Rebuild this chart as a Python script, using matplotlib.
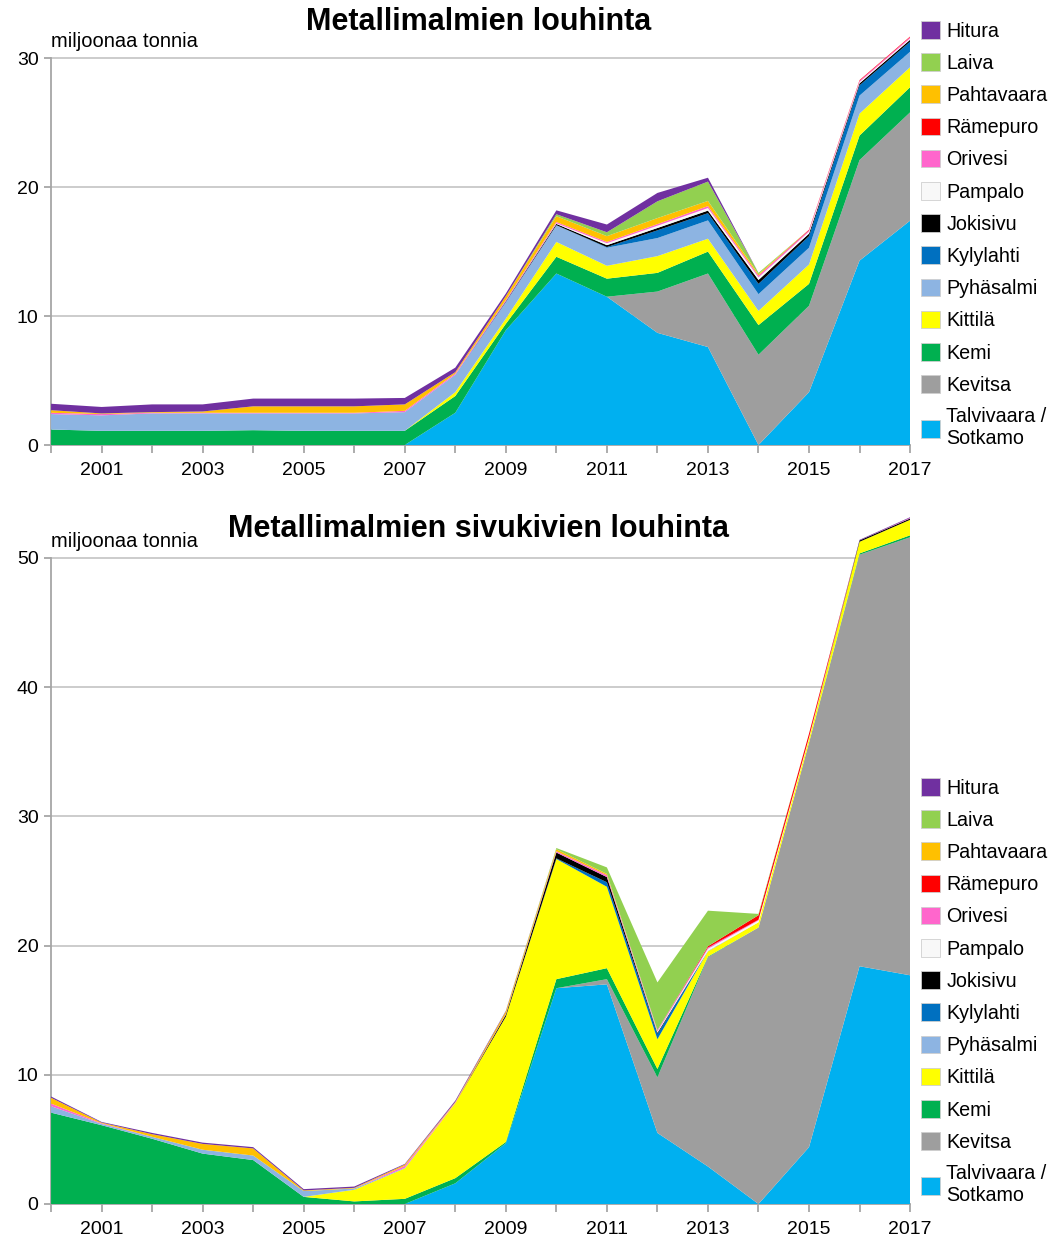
# Metallimalmien louhinta + sivukivien louhinta, pinotut aluekaaviot
import numpy as np
import matplotlib
matplotlib.use("Agg")
import matplotlib.pyplot as plt
from matplotlib.patches import Patch

plt.rcParams['font.family'] = ['Liberation Sans', 'DejaVu Sans']

years = list(range(2000, 2018))
xlabels = [str(y) if y % 2 == 1 else '' for y in years]

mines = ['Talvivaara /\nSotkamo', 'Kevitsa', 'Kemi', 'Kittilä', 'Pyhäsalmi', 'Kylylahti',
         'Jokisivu', 'Pampalo', 'Orivesi', 'Rämepuro', 'Pahtavaara', 'Laiva', 'Hitura']
colors = ['#00b0f0', '#9e9e9e', '#00b050', '#ffff00', '#8db4e2', '#0070c0',
          '#000000', '#f8f8f8', '#ff66cc', '#ff0000', '#ffc000', '#92d050', '#7030a0']

# malmin louhinta, milj. t (2000-2017)
ore_talvivaara = [0, 0, 0, 0, 0, 0, 0, 0, 2.5, 8.9, 13.3, 11.5, 8.7, 7.6, 0, 4.1, 14.3, 17.4]
ore_kevitsa    = [0, 0, 0, 0, 0, 0, 0, 0, 0, 0, 0, 0, 3.2, 5.7, 7.0, 6.7, 7.8, 8.4]
ore_kemi       = [1.2, 1.1, 1.1, 1.1, 1.15, 1.1, 1.1, 1.1, 1.3, 0.5, 1.3, 1.4, 1.45, 1.7, 2.3, 1.7, 1.9, 1.95]
ore_kittila    = [0, 0, 0, 0, 0, 0, 0, 0, 0.3, 0.4, 1.15, 1.0, 1.3, 1.0, 1.1, 1.5, 1.7, 1.55]
ore_pyhasalmi  = [1.2, 1.2, 1.35, 1.35, 1.3, 1.35, 1.35, 1.45, 1.35, 1.3, 1.3, 1.4, 1.4, 1.42, 1.3, 1.3, 1.4, 1.2]
ore_kylylahti  = [0, 0, 0, 0, 0, 0, 0, 0, 0, 0, 0, 0.05, 0.6, 0.56, 0.8, 0.9, 0.8, 0.78]
ore_jokisivu   = [0, 0, 0, 0, 0, 0, 0, 0, 0, 0.05, 0.1, 0.15, 0.18, 0.2, 0.3, 0.2, 0.15, 0.15]
ore_pampalo    = [0, 0, 0, 0, 0, 0, 0, 0, 0, 0, 0.05, 0.15, 0.18, 0.2, 0.2, 0.15, 0.1, 0.1]
ore_orivesi    = [0.1, 0.1, 0.05, 0.05, 0.05, 0.05, 0.05, 0.1, 0.1, 0.1, 0.1, 0.1, 0.12, 0.15, 0.15, 0.1, 0.1, 0.1]
ore_ramepuro   = [0, 0, 0, 0, 0, 0, 0, 0, 0, 0, 0, 0, 0, 0, 0, 0.05, 0.05, 0.05]
ore_pahtavaara = [0.2, 0.05, 0.05, 0.1, 0.5, 0.5, 0.5, 0.5, 0.1, 0.3, 0.45, 0.45, 0.47, 0.4, 0.1, 0, 0, 0]
ore_laiva      = [0, 0, 0, 0, 0, 0, 0, 0, 0, 0, 0.15, 0.3, 1.3, 1.5, 0.1, 0, 0, 0]
ore_hitura     = [0.5, 0.5, 0.6, 0.55, 0.6, 0.6, 0.6, 0.5, 0.35, 0.2, 0.3, 0.6, 0.65, 0.3, 0, 0, 0, 0]

# sivukiven louhinta, milj. t
waste_talvivaara = [0, 0, 0, 0, 0, 0, 0, 0, 1.6, 4.7, 16.7, 17.0, 5.5, 2.9, 0, 4.4, 18.4, 17.7]
waste_kevitsa    = [0, 0, 0, 0, 0, 0, 0, 0, 0, 0, 0, 0.4, 4.3, 16.2, 21.4, 31.3, 31.85, 33.9]
waste_kemi       = [7.07, 6.1, 5.05, 3.9, 3.4, 0.55, 0.2, 0.4, 0.4, 0.1, 0.7, 0.85, 0.65, 0.05, 0, 0, 0.1, 0.15]
waste_kittila    = [0, 0, 0, 0, 0, 0, 0.9, 2.35, 5.8, 9.7, 9.3, 6.3, 2.3, 0.4, 0.4, 0.3, 0.9, 1.2]
waste_pyhasalmi  = [0.5, 0.1, 0.15, 0.3, 0.35, 0.45, 0.1, 0.05, 0, 0, 0, 0, 0, 0.05, 0, 0, 0, 0]
waste_kylylahti  = [0, 0, 0, 0, 0, 0, 0, 0, 0, 0, 0.05, 0.35, 0.4, 0, 0, 0, 0, 0]
waste_jokisivu   = [0, 0, 0, 0, 0, 0, 0, 0, 0, 0.15, 0.45, 0.4, 0.1, 0, 0, 0, 0.1, 0.1]
waste_pampalo    = [0, 0, 0, 0, 0, 0, 0, 0, 0, 0, 0, 0, 0.1, 0.15, 0.15, 0.1, 0, 0]
waste_orivesi    = [0.2, 0.05, 0, 0, 0, 0, 0, 0.15, 0.05, 0.05, 0.1, 0.15, 0.1, 0.1, 0.05, 0, 0, 0.05]
waste_ramepuro   = [0, 0, 0, 0, 0, 0, 0, 0, 0, 0, 0, 0, 0, 0.1, 0.35, 0.3, 0, 0]
waste_pahtavaara = [0.45, 0.05, 0.2, 0.45, 0.55, 0.05, 0.05, 0.1, 0.05, 0.2, 0.15, 0.1, 0, 0, 0, 0, 0, 0]
waste_laiva      = [0, 0, 0, 0, 0, 0, 0, 0, 0, 0, 0.1, 0.5, 3.7, 2.75, 0.1, 0, 0, 0]
waste_hitura     = [0.1, 0.05, 0.1, 0.1, 0.1, 0.1, 0.1, 0.05, 0.1, 0.05, 0, 0, 0, 0, 0, 0, 0.05, 0.05]

ore = [ore_talvivaara, ore_kevitsa, ore_kemi, ore_kittila, ore_pyhasalmi, ore_kylylahti,
       ore_jokisivu, ore_pampalo, ore_orivesi, ore_ramepuro, ore_pahtavaara, ore_laiva, ore_hitura]
waste = [waste_talvivaara, waste_kevitsa, waste_kemi, waste_kittila, waste_pyhasalmi, waste_kylylahti,
         waste_jokisivu, waste_pampalo, waste_orivesi, waste_ramepuro, waste_pahtavaara, waste_laiva, waste_hitura]

fig = plt.figure(figsize=(10.57, 12.42), dpi=100)
ax1 = fig.add_axes([0.0483, 0.6417, 0.8127, 0.3374])
ax2 = fig.add_axes([0.0483, 0.0306, 0.8127, 0.5618])

gray = '#a6a6a6'


def style(ax, data, top, ymax, title, title_y):
    ax.stackplot(years, *data, colors=colors, linewidth=0, zorder=3)
    ax.set_xlim(2000, 2017)
    ax.set_ylim(0, ymax)
    ax.set_yticks(range(0, top + 1, 10))
    ax.set_xticks(years)
    ax.set_xticklabels(xlabels)
    ax.grid(axis='y', color='#c8c8c8', linewidth=1.3, zorder=0)
    for s in ['top', 'right']:
        ax.spines[s].set_visible(False)
    ax.spines['left'].set_bounds(0, top)
    for s in ['left', 'bottom']:
        ax.spines[s].set_color(gray)
        ax.spines[s].set_linewidth(1.3)
    ax.tick_params(axis='both', colors=gray, labelcolor='black', labelsize=14, width=1.3)
    ax.tick_params(axis='y', length=5, pad=4)
    ax.tick_params(axis='x', length=6, pad=6)
    ax.set_axisbelow(True)
    ax.annotate('miljoonaa tonnia', xy=(0, top), xycoords=ax.get_yaxis_transform(),
                xytext=(0, 5), textcoords='offset points', fontsize=14.5,
                ha='left', va='bottom')
    fig.text(0.453, title_y, title, fontsize=22, fontweight='bold', ha='center', va='center')


style(ax1, ore, 30, 32.5, 'Metallimalmien louhinta', 1 - 22 / 1242)
style(ax2, waste, 50, 54, 'Metallimalmien sivukivien louhinta', 1 - 529 / 1242)

handles = [Patch(facecolor=c, edgecolor='#cfcfcf', linewidth=0.6) for c in colors][::-1]
labels = mines[::-1]
for ytop in [1 - 21 / 1242, 1 - 778 / 1242]:
    fig.legend(handles, labels, loc='upper left', bbox_to_anchor=(0.871, ytop),
               frameon=False, fontsize=14.2, handlelength=1.0, handleheight=1.0,
               handletextpad=0.3, labelspacing=0.64, borderpad=0, borderaxespad=0)

fig.savefig('out.png', dpi=100)
